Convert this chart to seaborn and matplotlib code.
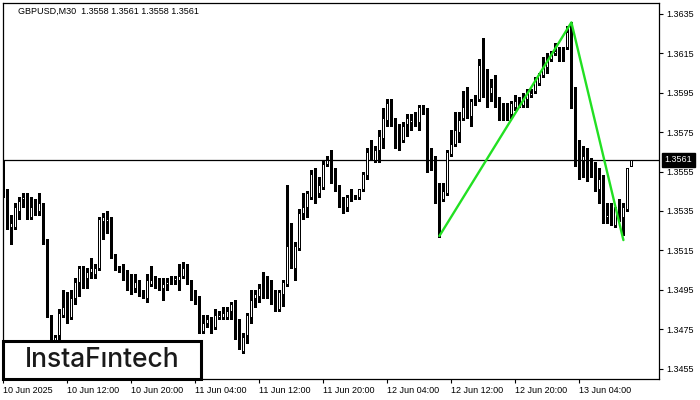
import numpy as np
import pandas as pd
import seaborn as sns
import matplotlib.pyplot as plt
from matplotlib.patches import Rectangle

# GBPUSD M30 candles (oldest first)
opens = [1.3557, 1.3545, 1.3527, 1.3527, 1.3535, 1.3541, 1.3543, 1.3532, 1.3536, 1.3535,
         1.3538, 1.3520, 1.3481, 1.3469, 1.3472, 1.3482, 1.3485, 1.3481, 1.3491, 1.3499,
         1.3506, 1.3501, 1.3504, 1.3503, 1.3506, 1.3530, 1.3530, 1.3531, 1.3512, 1.3506,
         1.3507, 1.3504, 1.3498, 1.3496, 1.3498, 1.3494, 1.3491, 1.3498, 1.3501, 1.3497,
         1.3496, 1.3498, 1.3500, 1.3500, 1.3500, 1.3502, 1.3507, 1.3499, 1.3493, 1.3491,
         1.3474, 1.3478, 1.3480, 1.3476, 1.3481, 1.3481, 1.3481, 1.3484, 1.3488, 1.3472,
         1.3464, 1.3472, 1.3481, 1.3491, 1.3492, 1.3497, 1.3497, 1.3495, 1.3494, 1.3485,
         1.3493, 1.3498, 1.3518, 1.3506, 1.3516, 1.3534, 1.3537, 1.3542, 1.3555, 1.3544,
         1.3547, 1.3559, 1.3562, 1.3550, 1.3547, 1.3538, 1.3537, 1.3543, 1.3542, 1.3542,
         1.3546, 1.3553, 1.3566, 1.3561, 1.3566, 1.3572, 1.3581, 1.3591, 1.3581, 1.3577,
         1.3571, 1.3579, 1.3580, 1.3582, 1.3580, 1.3587, 1.3586, 1.3562, 1.3562, 1.3545,
         1.3541, 1.3544, 1.3564, 1.3569, 1.3575, 1.3582, 1.3589, 1.3583, 1.3592, 1.3592,
         1.3610, 1.3599, 1.3595, 1.3599, 1.3592, 1.3586, 1.3586, 1.3584, 1.3588, 1.3591,
         1.3589, 1.3592, 1.3594, 1.3596, 1.3600, 1.3604, 1.3608, 1.3612, 1.3615, 1.3617,
         1.3617, 1.3618, 1.3629, 1.3597, 1.3570, 1.3561, 1.3564, 1.3559, 1.3555, 1.3546,
         1.3552, 1.3532, 1.3536, 1.3528, 1.3539, 1.3532, 1.3536, 1.3558]
highs = [1.3561, 1.3546, 1.3533, 1.3539, 1.3542, 1.3544, 1.3544, 1.3542, 1.3541, 1.3544,
         1.3539, 1.3521, 1.3482, 1.3472, 1.3485, 1.3495, 1.3494, 1.3495, 1.3501, 1.3507,
         1.3507, 1.3506, 1.3511, 1.3508, 1.3532, 1.3534, 1.3535, 1.3532, 1.3513, 1.3507,
         1.3508, 1.3505, 1.3503, 1.3503, 1.3500, 1.3495, 1.3503, 1.3507, 1.3502, 1.3501,
         1.3501, 1.3501, 1.3502, 1.3502, 1.3508, 1.3509, 1.3508, 1.3500, 1.3495, 1.3492,
         1.3482, 1.3482, 1.3481, 1.3485, 1.3484, 1.3486, 1.3486, 1.3489, 1.3490, 1.3480,
         1.3473, 1.3483, 1.3495, 1.3495, 1.3498, 1.3504, 1.3502, 1.3500, 1.3495, 1.3495,
         1.3500, 1.3548, 1.3529, 1.3519, 1.3536, 1.3544, 1.3545, 1.3556, 1.3557, 1.3552,
         1.3561, 1.3563, 1.3566, 1.3557, 1.3548, 1.3542, 1.3543, 1.3546, 1.3543, 1.3546,
         1.3555, 1.3567, 1.3571, 1.3568, 1.3576, 1.3587, 1.3592, 1.3592, 1.3582, 1.3579,
         1.3580, 1.3584, 1.3584, 1.3585, 1.3589, 1.3589, 1.3587, 1.3567, 1.3563, 1.3549,
         1.3549, 1.3566, 1.3576, 1.3585, 1.3585, 1.3596, 1.3598, 1.3592, 1.3594, 1.3612,
         1.3623, 1.3607, 1.3602, 1.3604, 1.3593, 1.3590, 1.3590, 1.3591, 1.3594, 1.3593,
         1.3595, 1.3597, 1.3597, 1.3603, 1.3605, 1.3613, 1.3615, 1.3616, 1.3620, 1.3618,
         1.3618, 1.3629, 1.3631, 1.3598, 1.3571, 1.3568, 1.3567, 1.3562, 1.3560, 1.3557,
         1.3553, 1.3539, 1.3539, 1.3537, 1.3541, 1.3539, 1.3557, 1.3561]
lows = [1.3542, 1.3526, 1.3518, 1.3526, 1.3531, 1.3537, 1.3531, 1.3531, 1.3533, 1.3533,
        1.3518, 1.3481, 1.3464, 1.3468, 1.3470, 1.3481, 1.3478, 1.3480, 1.3488, 1.3492,
        1.3496, 1.3496, 1.3501, 1.3501, 1.3505, 1.3521, 1.3524, 1.3511, 1.3505, 1.3504,
        1.3500, 1.3495, 1.3493, 1.3494, 1.3492, 1.3491, 1.3489, 1.3497, 1.3496, 1.3495,
        1.3490, 1.3495, 1.3498, 1.3498, 1.3495, 1.3501, 1.3498, 1.3490, 1.3488, 1.3473,
        1.3473, 1.3476, 1.3473, 1.3475, 1.3480, 1.3480, 1.3480, 1.3480, 1.3470, 1.3465,
        1.3463, 1.3468, 1.3478, 1.3486, 1.3489, 1.3491, 1.3491, 1.3488, 1.3484, 1.3484,
        1.3487, 1.3497, 1.3506, 1.3500, 1.3515, 1.3531, 1.3532, 1.3541, 1.3539, 1.3542,
        1.3546, 1.3558, 1.3549, 1.3545, 1.3537, 1.3534, 1.3535, 1.3540, 1.3541, 1.3541,
        1.3545, 1.3551, 1.3561, 1.3560, 1.3560, 1.3567, 1.3578, 1.3578, 1.3567, 1.3566,
        1.3570, 1.3573, 1.3576, 1.3578, 1.3576, 1.3584, 1.3555, 1.3556, 1.3539, 1.3522,
        1.3540, 1.3543, 1.3563, 1.3568, 1.3570, 1.3581, 1.3582, 1.3578, 1.3589, 1.3591,
        1.3593, 1.3588, 1.3591, 1.3588, 1.3581, 1.3581, 1.3581, 1.3582, 1.3586, 1.3588,
        1.3588, 1.3588, 1.3593, 1.3595, 1.3599, 1.3603, 1.3605, 1.3611, 1.3614, 1.3611,
        1.3611, 1.3617, 1.3587, 1.3558, 1.3551, 1.3552, 1.3550, 1.3552, 1.3545, 1.3539,
        1.3529, 1.3529, 1.3528, 1.3527, 1.3530, 1.3523, 1.3535, 1.3558]
closes = [1.3544, 1.3529, 1.3529, 1.3537, 1.3540, 1.3542, 1.3532, 1.3537, 1.3534, 1.3539,
          1.3521, 1.3482, 1.3467, 1.3471, 1.3483, 1.3486, 1.3481, 1.3491, 1.3499, 1.3506,
          1.3500, 1.3504, 1.3506, 1.3506, 1.3531, 1.3532, 1.3531, 1.3513, 1.3506, 1.3506,
          1.3501, 1.3496, 1.3498, 1.3499, 1.3493, 1.3492, 1.3500, 1.3500, 1.3497, 1.3496,
          1.3498, 1.3499, 1.3500, 1.3501, 1.3502, 1.3506, 1.3499, 1.3491, 1.3489, 1.3474,
          1.3478, 1.3480, 1.3474, 1.3482, 1.3482, 1.3483, 1.3484, 1.3488, 1.3471, 1.3466,
          1.3471, 1.3482, 1.3490, 1.3493, 1.3496, 1.3495, 1.3495, 1.3494, 1.3486, 1.3494,
          1.3499, 1.3517, 1.3508, 1.3517, 1.3534, 1.3537, 1.3544, 1.3554, 1.3545, 1.3548,
          1.3559, 1.3561, 1.3550, 1.3546, 1.3539, 1.3536, 1.3542, 1.3541, 1.3542, 1.3546,
          1.3554, 1.3565, 1.3562, 1.3566, 1.3573, 1.3582, 1.3590, 1.3582, 1.3576, 1.3572,
          1.3578, 1.3582, 1.3581, 1.3581, 1.3588, 1.3587, 1.3562, 1.3562, 1.3544, 1.3541,
          1.3545, 1.3565, 1.3569, 1.3576, 1.3581, 1.3588, 1.3584, 1.3591, 1.3590, 1.3609,
          1.3598, 1.3594, 1.3598, 1.3593, 1.3585, 1.3585, 1.3585, 1.3590, 1.3591, 1.3589,
          1.3593, 1.3596, 1.3595, 1.3602, 1.3604, 1.3609, 1.3611, 1.3615, 1.3616, 1.3615,
          1.3617, 1.3626, 1.3596, 1.3568, 1.3562, 1.3563, 1.3560, 1.3556, 1.3547, 1.3551,
          1.3531, 1.3533, 1.3529, 1.3536, 1.3531, 1.3537, 1.3557, 1.3561]

# double top pattern drawn on the chart (bar index, price)
pattern_bars = [109, 142, 155]
pattern_prices = [1.35223, 1.36307, 1.35202]

last_price = 1.3561
price_ticks = [1.3455, 1.3475, 1.3495, 1.3515, 1.3535, 1.3555, 1.3575, 1.3595, 1.3615, 1.3635]
time_ticks = [0, 16, 32, 48, 64, 80, 96, 112, 128, 144]
time_labels = ["10 Jun 2025", "10 Jun 12:00", "10 Jun 20:00", "11 Jun 04:00", "11 Jun 12:00",
               "11 Jun 20:00", "12 Jun 04:00", "12 Jun 12:00", "12 Jun 20:00", "13 Jun 04:00"]

sns.set_theme(style="white")
plt.rcParams['font.family'] = ['Liberation Sans', 'DejaVu Sans']

df = pd.DataFrame({"open": opens, "high": highs, "low": lows, "close": closes})
df["bar"] = np.arange(len(df))
up = df["close"] >= df["open"]

fig = plt.figure(figsize=(7, 4), dpi=100)
ax = fig.add_axes([3 / 700, 21 / 400, 656 / 700, 376.5 / 400])

# wicks
ax.vlines(df["bar"], df["low"], df["high"], color="black", lw=0.75, zorder=2, antialiased=False)
# bodies: white = bullish, black = bearish
bottom = np.minimum(df["open"], df["close"])
height = (df["close"] - df["open"]).abs()
ax.bar(df["bar"], height, bottom=bottom, width=0.5,
       color=np.where(up, "white", "black"), edgecolor="black", linewidth=0.72,
       zorder=3, antialiased=False)

ax.axhline(last_price, color="black", lw=0.9, zorder=1)

sns.lineplot(x=pattern_bars, y=pattern_prices, sort=False, color="#22e022", lw=1.7,
             ax=ax, zorder=4)

ax.set_xlim(-0.1, 163.9)
ax.set_ylim(1.34497, 1.36408)
ax.set_xticks(time_ticks)
ax.set_xticklabels(time_labels, ha="left")
ax.yaxis.tick_right()
ax.set_yticks(price_ticks)
ax.set_yticklabels([f"{p:.4f}" for p in price_ticks])
ax.tick_params(axis="both", direction="out", length=3, width=0.8, labelsize=6.5,
               colors="black", pad=2, bottom=True, right=True, left=False)
for s in ax.spines.values():
    s.set_color("black")
    s.set_linewidth(0.9)
ax.set_xlabel("")
ax.set_ylabel("")

# current price tag
ax.annotate(f"{last_price:.4f}", xy=(1, last_price), xycoords=ax.get_yaxis_transform(),
            xytext=(4, 0), textcoords="offset points", ha="left", va="center",
            fontsize=6.5, color="white",
            bbox=dict(boxstyle="square,pad=0.3", fc="black", ec="black"))

fig.text(18 / 700, 1 - 11 / 400, "GBPUSD,M30  1.3558 1.3561 1.3558 1.3561",
         fontsize=6.5, color="black", va="center", ha="left")

# logo box
ax.add_patch(Rectangle((0, 0), 0.302, 0.101, transform=ax.transAxes, fc="white",
                       ec="black", lw=2.2, zorder=6, clip_on=False))
ax.text(0.151, 0.05, "InstaFıntech", transform=ax.transAxes, ha="center", va="center",
        fontsize=19, color="#1a1a1a", family=["Inter", "DejaVu Sans"], fontweight=500,
        zorder=7)

fig.savefig("out.png", dpi=100)
